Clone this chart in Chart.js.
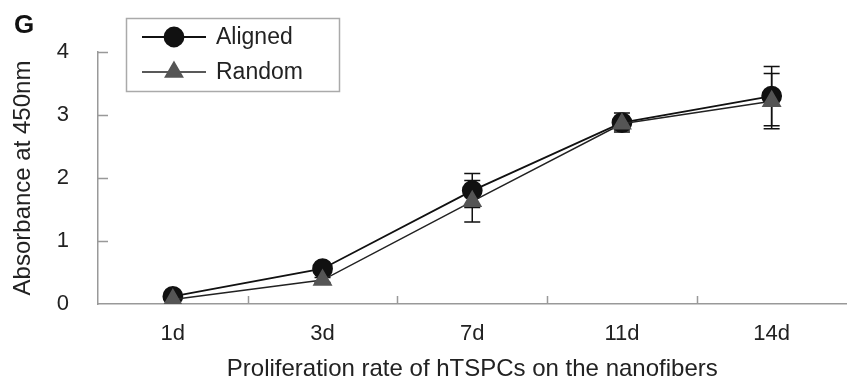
<!DOCTYPE html>
<html>
<head>
<meta charset="utf-8">
<script src="https://cdn.jsdelivr.net/npm/chart.js@4/dist/chart.umd.min.js"></script>
<style>
  html, body { margin: 0; padding: 0; background: #fff; overflow: hidden; }
  #wrap { width: 852px; height: 381px; overflow: hidden; position: relative; }
  #box { width: 858px; height: 381px; }
</style>
</head>
<body>
<div id="wrap"><div id="box"><canvas id="lineChart"></canvas></div></div>
<script>
// data
var categories = ['1d', '3d', '7d', '11d', '14d'];
var aligned = [0.12, 0.56, 1.80, 2.88, 3.30];
var random = [0.07, 0.38, 1.63, 2.86, 3.22];
var alignedSD = [0.02, 0.04, 0.27, 0.15, 0.47];
var randomSD = [0.02, 0.04, 0.33, 0.10, 0.44];
var yTicks = [0, 1, 2, 3, 4];

var FONT = '"Liberation Sans", Arial, sans-serif';
var TEXT = '#222';
var AXIS = '#999';

// error bars, drawn under the markers
var errorBars = {
  id: 'errorBars',
  beforeDatasetsDraw: function(chart) {
    var ctx = chart.ctx, x = chart.scales.x, y = chart.scales.y;
    var sets = [[aligned, alignedSD], [random, randomSD]];
    ctx.save();
    ctx.strokeStyle = '#111';
    ctx.lineWidth = 1.5;
    sets.forEach(function(s) {
      s[0].forEach(function(v, i) {
        var px = x.getPixelForValue(i);
        var top = y.getPixelForValue(v + s[1][i]);
        var bot = y.getPixelForValue(v - s[1][i]);
        ctx.beginPath();
        ctx.moveTo(px, top); ctx.lineTo(px, bot);
        ctx.moveTo(px - 8, top); ctx.lineTo(px + 8, top);
        ctx.moveTo(px - 8, bot); ctx.lineTo(px + 8, bot);
        ctx.stroke();
      });
    });
    ctx.restore();
  }
};

// inward tick marks, legend box and panel letter
var decor = {
  id: 'decor',
  afterDraw: function(chart) {
    var ctx = chart.ctx, x = chart.scales.x, y = chart.scales.y, a = chart.chartArea;
    ctx.save();
    ctx.strokeStyle = AXIS;
    ctx.lineWidth = 1.5;
    ctx.beginPath();
    yTicks.forEach(function(t) {
      if (t === 0) return;
      var py = Math.round(y.getPixelForValue(t)) + 0.5;
      ctx.moveTo(a.left, py); ctx.lineTo(a.left + 10, py);
    });
    for (var i = 0; i < categories.length - 1; i++) {
      var px = Math.round((x.getPixelForValue(i) + x.getPixelForValue(i + 1)) / 2) + 0.5;
      ctx.moveTo(px, a.bottom); ctx.lineTo(px, a.bottom - 8);
    }
    ctx.stroke();

    // legend
    ctx.strokeStyle = '#aaa';
    ctx.lineWidth = 1.5;
    ctx.strokeRect(126.5, 18.5, 213, 73);
    var rows = [37, 72];
    chart.data.datasets.forEach(function(ds, k) {
      var ly = rows[k];
      ctx.strokeStyle = ds.borderColor;
      ctx.lineWidth = ds.borderWidth;
      ctx.beginPath();
      ctx.moveTo(142, ly); ctx.lineTo(206, ly);
      ctx.stroke();
      ctx.fillStyle = ds.pointBackgroundColor;
      ctx.strokeStyle = ds.pointBorderColor;
      Chart.helpers.drawPoint(ctx, {pointStyle: ds.pointStyle, radius: ds.pointRadius, borderWidth: 1}, 174, ly);
      ctx.fillStyle = TEXT;
      ctx.font = '23px ' + FONT;
      ctx.textBaseline = 'middle';
      ctx.textAlign = 'left';
      ctx.fillText(ds.label, 216, ly + 1);
    });

    ctx.fillStyle = '#111';
    ctx.font = 'bold 26px ' + FONT;
    ctx.textBaseline = 'middle';
    ctx.fillText('G', 14, 26);
    ctx.restore();
  }
};

new Chart(document.getElementById('lineChart').getContext('2d'), {
  type: 'line',
  data: {
    labels: categories,
    datasets: [{
      label: 'Aligned',
      data: aligned,
      order: 1,
      borderColor: '#111',
      borderWidth: 1.8,
      pointStyle: 'circle',
      pointRadius: 9.5,
      pointBackgroundColor: '#111',
      pointBorderColor: '#111',
      tension: 0
    }, {
      label: 'Random',
      data: random,
      order: 0,
      borderColor: '#222',
      borderWidth: 1.5,
      pointStyle: 'triangle',
      pointRadius: 10,
      pointBackgroundColor: '#555',
      pointBorderColor: '#555',
      tension: 0
    }]
  },
  options: {
    responsive: true,
    maintainAspectRatio: false,
    animation: false,
    layout: { padding: { top: 52, left: 0, right: 0, bottom: 0 } },
    plugins: {
      legend: { display: false },
      tooltip: { enabled: false }
    },
    scales: {
      x: {
        offset: true,
        border: { color: AXIS, width: 1.5 },
        grid: { display: false, offset: true },
        ticks: { color: TEXT, font: { family: FONT, size: 22 }, padding: 9, maxRotation: 0 },
        title: {
          display: true,
          text: 'Proliferation rate of hTSPCs on the nanofibers',
          color: TEXT,
          font: { family: FONT, size: 24 },
          padding: { top: 6, bottom: -3 }
        },
        afterFit: function(scale) { scale.height = 77; }
      },
      y: {
        min: 0,
        max: 4,
        border: { color: AXIS, width: 1.5 },
        grid: { display: false },
        afterBuildTicks: function(scale) {
          scale.ticks = yTicks.map(function(v) { return { value: v }; });
        },
        ticks: { color: TEXT, font: { family: FONT, size: 22 }, padding: 21 },
        title: {
          display: true,
          text: 'Absorbance at 450nm',
          color: TEXT,
          font: { family: FONT, size: 24 },
          padding: { top: 9, bottom: 0 }
        },
        afterFit: function(scale) { scale.width = 98; }
      }
    }
  },
  plugins: [errorBars, decor]
});
</script>
</body>
</html>
